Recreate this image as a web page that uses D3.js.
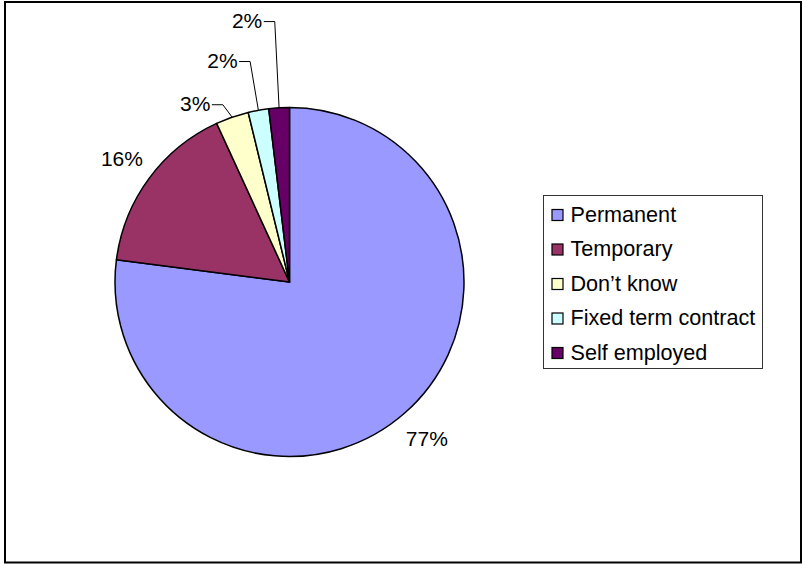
<!DOCTYPE html>
<html>
<head>
<meta charset="utf-8">
<script src="https://cdn.jsdelivr.net/npm/d3@7"></script>
<style>
  html, body { margin: 0; padding: 0; background: #fff; }
  svg { display: block; }
  text { font-family: "Liberation Sans", Arial, sans-serif; }
</style>
</head>
<body>
<svg id="chart" width="803" height="565"></svg>
<script>
// ---- data ----
const categories = ["Permanent", "Temporary", "Don\u2019t know", "Fixed term contract", "Self employed"];
const values = [77.0, 16.1, 3.05, 1.9, 1.9];
const colors = ["#9999FF", "#993366", "#FFFFCC", "#CCFFFF", "#660066"];
// label nudges from default position (layout only): [dx, dy]
const labelNudge = [[0, 0], [0, 0], [-26, 18], [-30, -17], [-30, -54]];

// ---- layout ----
const W = 803, H = 565;
const cx = 289.5, cy = 282, R = 174.5, labelR = 208;
const fontSize = 21;
const legendFontSize = 21.6;

const svg = d3.select("#chart");

// outer border
svg.append("rect")
  .attr("x", 5).attr("y", 2).attr("width", 796).attr("height", 560.5)
  .attr("fill", "#fff").attr("stroke", "#000").attr("stroke-width", 2);

const data = categories.map((c, i) => ({ name: c, value: values[i], color: colors[i], nudge: labelNudge[i] }));

const pie = d3.pie().sort(null).value(d => d.value);
const arcs = pie(data);

const arc = d3.arc().innerRadius(0).outerRadius(R);
const labelArc = d3.arc().innerRadius(labelR).outerRadius(labelR);
const edgeArc = d3.arc().innerRadius(R).outerRadius(R);

const g = svg.append("g").attr("transform", `translate(${cx},${cy})`);

g.selectAll("path.slice")
  .data(arcs)
  .enter().append("path")
  .attr("class", "slice")
  .attr("d", arc)
  .attr("fill", d => d.data.color)
  .attr("stroke", "#000")
  .attr("stroke-width", 1.5)
  .attr("stroke-linejoin", "round");

// labels
const labels = g.selectAll("g.lab")
  .data(arcs)
  .enter().append("g")
  .attr("class", "lab");

labels.each(function(d) {
  const grp = d3.select(this);
  const c = labelArc.centroid(d);
  const x = c[0] + d.data.nudge[0];
  const y = c[1] + d.data.nudge[1];
  const t = grp.append("text")
    .attr("x", x).attr("y", y)
    .attr("dy", "0.36em")
    .attr("text-anchor", "middle")
    .attr("font-size", fontSize)
    .attr("fill", "#000")
    .text(Math.round(d.data.value) + "%");
  if (d.data.nudge[0] !== 0 || d.data.nudge[1] !== 0) {
    const w = t.node().getComputedTextLength();
    const right = x + w / 2 + 1.5;
    const ly = y + 1.2;
    const e = edgeArc.centroid(d);
    grp.append("polyline")
      .attr("points", [[right, ly], [right + 11, ly], [e[0], e[1]]].map(p => p.join(",")).join(" "))
      .attr("fill", "none")
      .attr("stroke", "#000")
      .attr("stroke-width", 1);
  }
});

// legend
const lg = svg.append("g");
lg.append("rect")
  .attr("x", 543.5).attr("y", 195.5).attr("width", 219).attr("height", 173)
  .attr("fill", "#fff").attr("stroke", "#333").attr("stroke-width", 1);

const rowY = d3.scalePoint().domain(categories).range([221.5, 359.5]);

const items = lg.selectAll("g.item")
  .data(data)
  .enter().append("g")
  .attr("class", "item");

items.append("rect")
  .attr("x", 552).attr("y", d => rowY(d.name) - 12)
  .attr("width", 11).attr("height", 11)
  .attr("fill", d => d.color)
  .attr("stroke", "#000").attr("stroke-width", 1.2);

items.append("text")
  .attr("x", 570.5).attr("y", d => rowY(d.name))
  .attr("font-size", legendFontSize)
  .attr("fill", "#000")
  .text(d => d.name);
</script>
</body>
</html>
